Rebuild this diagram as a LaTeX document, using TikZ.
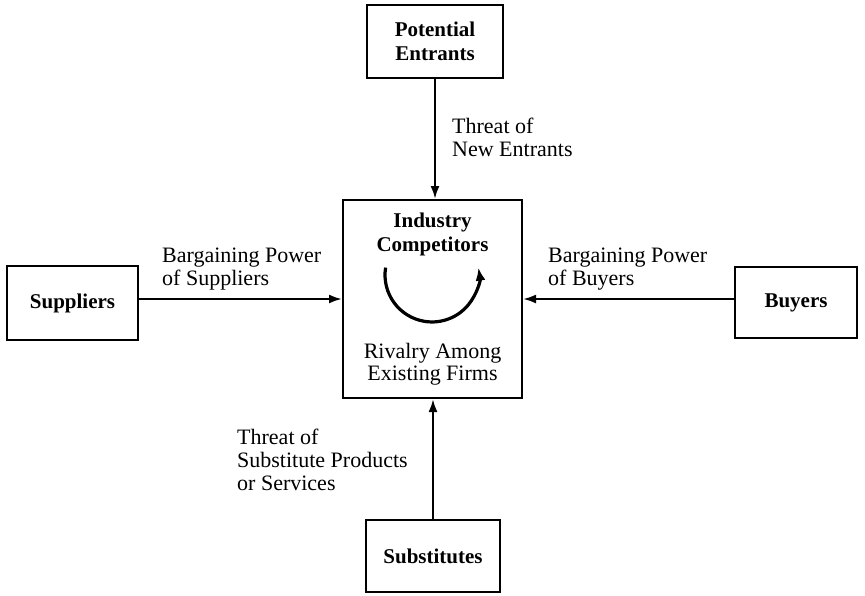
\documentclass[tikz,border=0pt]{standalone}
\usepackage{fontspec}
\setmainfont{Liberation Serif}
\usetikzlibrary{arrows.meta}
\begin{document}
\begin{tikzpicture}[x=1pt,y=-1pt,
  box/.style={draw, line width=2pt, inner sep=0pt, align=center,
    font=\bfseries\fontsize{21}{24}\selectfont},
  lbl/.style={inner sep=0pt, align=left, anchor=north west,
    font=\fontsize{22}{23}\selectfont},
  clbl/.style={inner sep=0pt, align=center, anchor=north},
  force/.style={line width=2.2pt, -{Latex[length=13pt,width=9pt]}}]
\useasboundingbox (0,0) rectangle (865,595);

\node[box, minimum width=136pt, minimum height=73pt] (pe) at (435,41.5) {Potential\\Entrants};
\node[box, minimum width=179pt, minimum height=198pt] (ic) at (432.5,299) {};
\node[box, minimum width=131pt, minimum height=74pt] (sup) at (72.5,303) {Suppliers};
\node[box, minimum width=122pt, minimum height=71pt] (buy) at (796,302.5) {Buyers};
\node[box, minimum width=134pt, minimum height=72pt] (sub) at (433,556) {Substitutes};

\node[clbl, font=\bfseries\fontsize{21}{24}\selectfont] (ict) at (432.5,213) {Industry\\Competitors};
\node[clbl, font=\fontsize{22}{22}\selectfont] (icr) at (432.5,343) {Rivalry Among\\Existing Firms};

\draw[force] (pe.south) -- (pe.south |- ic.north);
\draw[force] (sub.north) -- (sub.north |- ic.south);
\draw[force] (ic.west -| sup.east) -- (ic.west);
\draw[force] (ic.east -| buy.west) -- (ic.east);

\node[lbl] (lne) at (452,118) {Threat of\\New Entrants};
\node[lbl] (lsu) at (162,248) {Bargaining Power\\of Suppliers};
\node[lbl] (lbu) at (548,248) {Bargaining Power\\of Buyers};
\node[lbl] (lsb) at (237,429) {Threat of\\Substitute Products\\or Services};

\draw[line width=3.2pt, -{Latex[length=13pt,width=10pt]}] (385.6,267.6) arc[start angle=189, end angle=-9, radius=47];
\end{tikzpicture}
\end{document}
